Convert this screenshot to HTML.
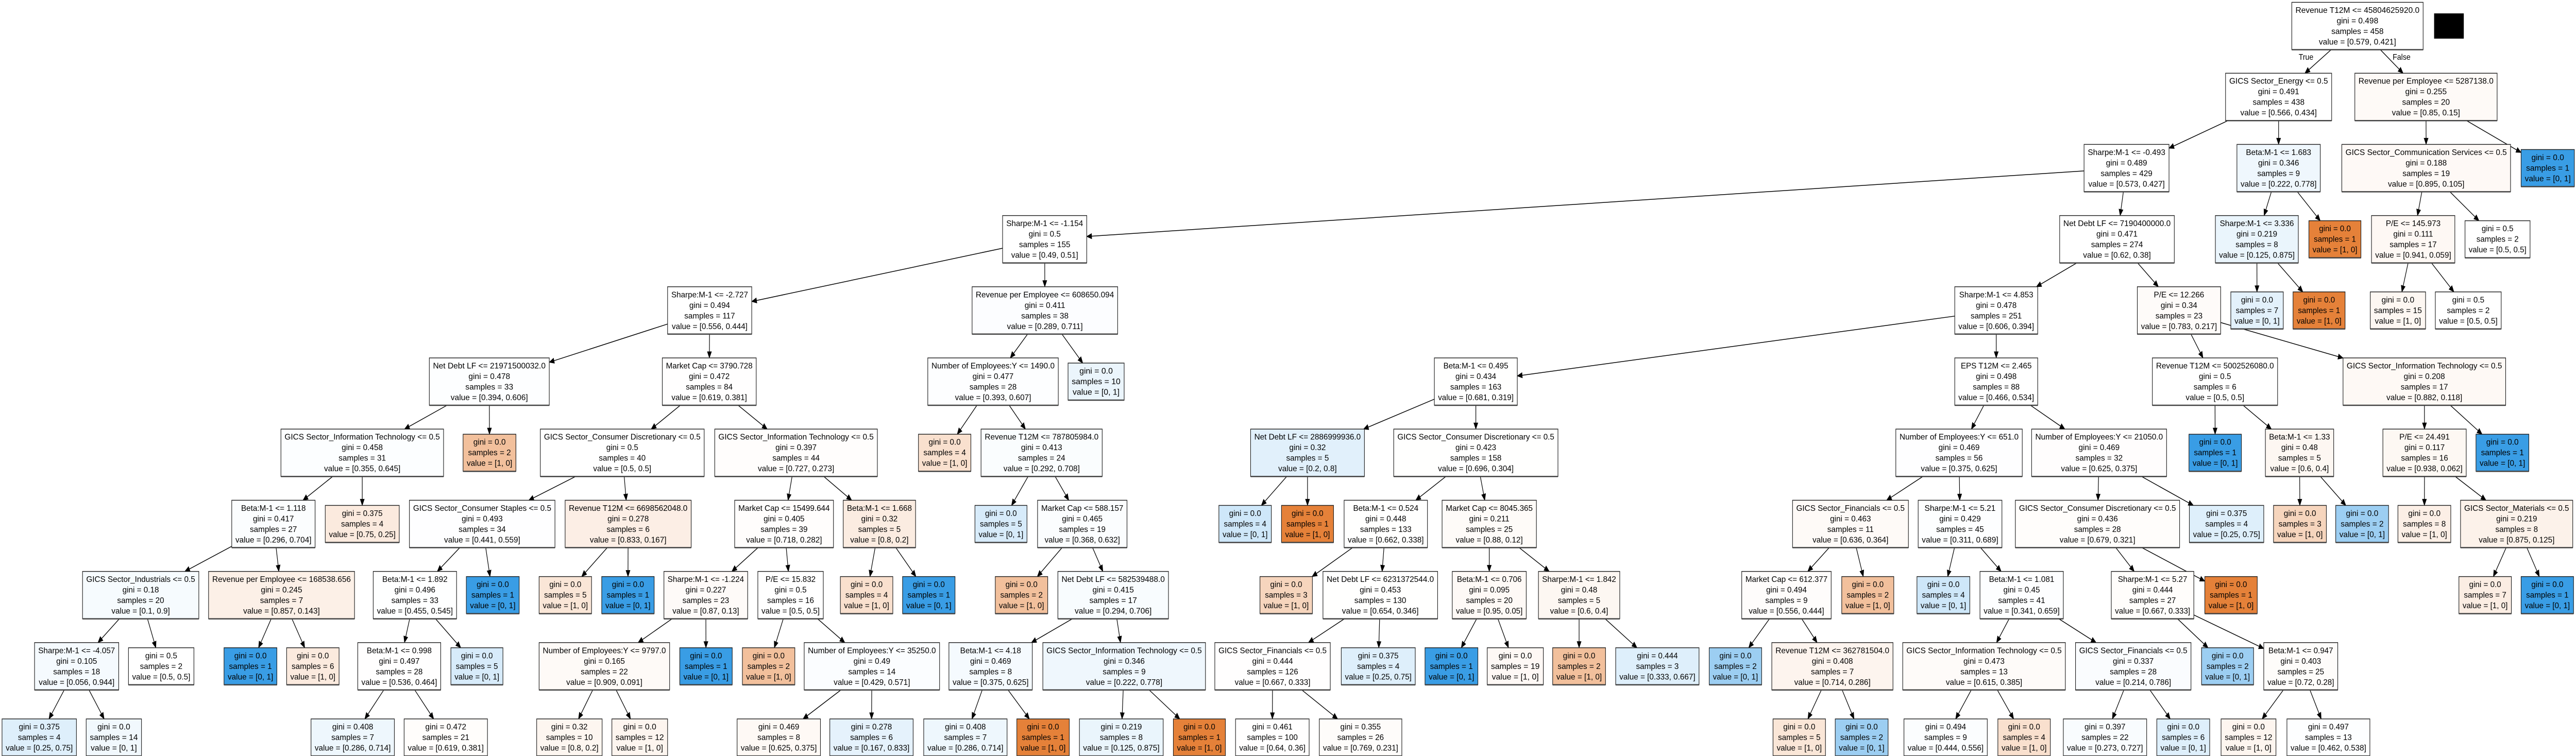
<!DOCTYPE html>
<html><head><meta charset="utf-8">
<style>
html,body{margin:0;padding:0;background:#fff;overflow:hidden;width:100%;height:100%;}
svg{display:block;position:fixed;left:0;top:0;width:100vw;height:100vh;}
text{font-family:"Liberation Sans",Arial,sans-serif;font-size:16px;fill:#000;}
</style></head>
<body>
<svg id="s" xmlns="http://www.w3.org/2000/svg" viewBox="0 0 6336 1468" preserveAspectRatio="none">
<rect x="0" y="0" width="6336" height="1468" fill="#fff"/>
<g id="edges"></g>
<g id="nodes"></g>
<rect x="5987" y="26" width="73" height="49" fill="#000"/>
<text x="5672" y="116" text-anchor="middle" textLength="36" lengthAdjust="spacingAndGlyphs">True</text>
<text x="5907" y="116" text-anchor="middle" textLength="44" lengthAdjust="spacingAndGlyphs">False</text>
</svg>
<script>
var NS='http://www.w3.org/2000/svg';
var EG=document.getElementById('edges'),NG=document.getElementById('nodes');
var nodes={};
function cyOf(L){return L==0?50.5:50+138.2*L;}
function N(id,x1,x2,L,txt,p0,s){
  var lines=txt.split('|');var h=lines.length==4?92:72;var cy=cyOf(L);
  nodes[id]={x1:x1,x2:x2,top:cy-h/2,bot:cy+h/2,cx:(x1+x2)/2,cy:cy,lines:lines,p0:p0,s:s};
}
function Lf(id,x1,x2,L,g,s,v,p0){N(id,x1,x2,L,'gini = '+g+'|samples = '+s+'|value = '+v,p0,s);}
function I(id,x1,x2,L,cond,g,s,v,p0){N(id,x1,x2,L,cond+'|gini = '+g+'|samples = '+s+'|value = '+v,p0,s);}
I('R',5637,5960,0,'Revenue T12M <= 45804625920.0','0.498',458,'[0.579, 0.421]',0.579);
I('EN',5474,5735,1,'GICS Sector_Energy <= 0.5','0.491',438,'[0.566, 0.434]',0.566);
I('RP1',5792,6142,1,'Revenue per Employee <= 5287138.0','0.255',20,'[0.85, 0.15]',0.85);
I('S0493',5126,5335,2,'Sharpe:M-1 <= -0.493','0.489',429,'[0.573, 0.427]',0.573);
I('B1683',5502,5707,2,'Beta:M-1 <= 1.683','0.346',9,'[0.222, 0.778]',0.222);
I('GC',5760,6175,2,'GICS Sector_Communication Services <= 0.5','0.188',19,'[0.895, 0.105]',0.895);
Lf('LB1',6201,6332,2,'0.0',1,'[0, 1]',0);
I('ND719',5066,5348,3,'Net Debt LF <= 7190400000.0','0.471',274,'[0.62, 0.38]',0.62);
I('S1154',2466,2673,3,'Sharpe:M-1 <= -1.154','0.5',155,'[0.49, 0.51]',0.49);
I('S3336',5449,5653,3,'Sharpe:M-1 <= 3.336','0.219',8,'[0.125, 0.875]',0.125);
Lf('OR1',5679,5807,3,'0.0',1,'[1, 0]',1);
I('PE145',5833,6038,3,'P/E <= 145.973','0.111',17,'[0.941, 0.059]',0.941);
Lf('H1',6063,6223,3,'0.5',2,'[0.5, 0.5]',0.5);
I('S2727',1642,1849,4,'Sharpe:M-1 <= -2.727','0.494',117,'[0.556, 0.444]',0.556);
I('RPE608',2391,2749,4,'Revenue per Employee <= 608650.094','0.411',38,'[0.289, 0.711]',0.289);
I('S4853',4808,5012,4,'Sharpe:M-1 <= 4.853','0.478',251,'[0.606, 0.394]',0.606);
I('PE12',5257,5462,4,'P/E <= 12.266','0.34',23,'[0.783, 0.217]',0.783);
Lf('a',5487,5616,4,'0.0',7,'[0, 1]',0);
Lf('b',5640,5768,4,'0.0',1,'[1, 0]',1);
Lf('c',5830,5966,4,'0.0',15,'[1, 0]',1);
Lf('d',5990,6152,4,'0.5',2,'[0.5, 0.5]',0.5);
I('ND219',1056,1351,5,'Net Debt LF <= 21971500032.0','0.478',33,'[0.394, 0.606]',0.394);
I('MC3790',1629,1860,5,'Market Cap <= 3790.728','0.472',84,'[0.619, 0.381]',0.619);
I('NE1490',2282,2603,5,'Number of Employees:Y <= 1490.0','0.477',28,'[0.393, 0.607]',0.393);
Lf('e',2627,2765,5,'0.0',10,'[0, 1]',0);
I('B0495',3528,3732,5,'Beta:M-1 <= 0.495','0.434',163,'[0.681, 0.319]',0.681);
I('EPS',4808,5012,5,'EPS T12M <= 2.465','0.498',88,'[0.466, 0.534]',0.466);
I('RT5002',5294,5602,5,'Revenue T12M <= 5002526080.0','0.5',6,'[0.5, 0.5]',0.5);
I('GIT208',5763,6163,5,'GICS Sector_Information Technology <= 0.5','0.208',17,'[0.882, 0.118]',0.882);
I('GIT458',691,1091,6,'GICS Sector_Information Technology <= 0.5','0.458',31,'[0.355, 0.645]',0.355);
Lf('f',1139,1269,6,'0.0',2,'[1, 0]',1);
I('GCD5',1329,1732,6,'GICS Sector_Consumer Discretionary <= 0.5','0.5',40,'[0.5, 0.5]',0.5);
I('GIT397',1758,2158,6,'GICS Sector_Information Technology <= 0.5','0.397',44,'[0.727, 0.273]',0.727);
Lf('g',2259,2388,6,'0.0',4,'[1, 0]',1);
I('RT787',2413,2711,6,'Revenue T12M <= 787805984.0','0.413',24,'[0.292, 0.708]',0.292);
I('ND2886',3076,3356,6,'Net Debt LF <= 2886999936.0','0.32',5,'[0.2, 0.8]',0.2);
I('GCD423',3428,3832,6,'GICS Sector_Consumer Discretionary <= 0.5','0.423',158,'[0.696, 0.304]',0.696);
I('NE651',4663,4974,6,'Number of Employees:Y <= 651.0','0.469',56,'[0.375, 0.625]',0.375);
I('NE21050',4997,5329,6,'Number of Employees:Y <= 21050.0','0.469',32,'[0.625, 0.375]',0.625);
Lf('h',5384,5513,6,'0.0',1,'[0, 1]',0);
I('B133',5572,5740,6,'Beta:M-1 <= 1.33','0.48',5,'[0.6, 0.4]',0.6);
I('PE24',5861,6066,6,'P/E <= 24.491','0.117',16,'[0.938, 0.062]',0.938);
Lf('i',6090,6220,6,'0.0',1,'[0, 1]',0);
I('B1118',570,775,7,'Beta:M-1 <= 1.118','0.417',27,'[0.296, 0.704]',0.296);
Lf('j',800,982,7,'0.375',4,'[0.75, 0.25]',0.75);
I('GCS',1007,1365,7,'GICS Sector_Consumer Staples <= 0.5','0.493',34,'[0.441, 0.559]',0.441);
I('RT6698',1390,1700,7,'Revenue T12M <= 6698562048.0','0.278',6,'[0.833, 0.167]',0.833);
I('MC15499',1807,2050,7,'Market Cap <= 15499.644','0.405',39,'[0.718, 0.282]',0.718);
I('B1668',2074,2252,7,'Beta:M-1 <= 1.668','0.32',5,'[0.8, 0.2]',0.8);
Lf('k',2398,2526,7,'0.0',5,'[0, 1]',0);
I('MC588',2552,2772,7,'Market Cap <= 588.157','0.465',19,'[0.368, 0.632]',0.368);
Lf('l',2998,3127,7,'0.0',4,'[0, 1]',0);
Lf('m',3152,3280,7,'0.0',1,'[1, 0]',1);
I('B0524',3306,3511,7,'Beta:M-1 <= 0.524','0.448',133,'[0.662, 0.338]',0.662);
I('MC8045',3547,3779,7,'Market Cap <= 8045.365','0.211',25,'[0.88, 0.12]',0.88);
I('GF463',4409,4694,7,'GICS Sector_Financials <= 0.5','0.463',11,'[0.636, 0.364]',0.636);
I('S521',4718,4924,7,'Sharpe:M-1 <= 5.21','0.429',45,'[0.311, 0.689]',0.311);
I('GCD436',4957,5361,7,'GICS Sector_Consumer Discretionary <= 0.5','0.436',28,'[0.679, 0.321]',0.679);
Lf('n',5385,5568,7,'0.375',4,'[0.25, 0.75]',0.25);
Lf('o',5592,5722,7,'0.0',3,'[1, 0]',1);
Lf('p',5745,5875,7,'0.0',2,'[0, 1]',0);
Lf('q',5898,6028,7,'0.0',8,'[1, 0]',1);
I('GM',6052,6328,7,'GICS Sector_Materials <= 0.5','0.219',8,'[0.875, 0.125]',0.875);
I('GI',203,489,8,'GICS Sector_Industrials <= 0.5','0.18',20,'[0.1, 0.9]',0.1);
I('RPE168',513,872,8,'Revenue per Employee <= 168538.656','0.245',7,'[0.857, 0.143]',0.857);
I('B1892',918,1123,8,'Beta:M-1 <= 1.892','0.496',33,'[0.455, 0.545]',0.455);
Lf('r',1147,1277,8,'0.0',1,'[0, 1]',0);
Lf('s_',1326,1455,8,'0.0',5,'[1, 0]',1);
Lf('t',1480,1609,8,'0.0',1,'[0, 1]',0);
I('S1224',1633,1839,8,'Sharpe:M-1 <= -1.224','0.227',23,'[0.87, 0.13]',0.87);
I('PE158',1864,2025,8,'P/E <= 15.832','0.5',16,'[0.5, 0.5]',0.5);
Lf('u',2067,2196,8,'0.0',4,'[1, 0]',1);
Lf('v',2220,2349,8,'0.0',1,'[0, 1]',0);
Lf('w',2448,2577,8,'0.0',2,'[1, 0]',1);
I('ND582',2602,2874,8,'Net Debt LF <= 582539488.0','0.415',17,'[0.294, 0.706]',0.294);
Lf('x',3099,3228,8,'0.0',3,'[1, 0]',1);
I('ND6231',3254,3536,8,'Net Debt LF <= 6231372544.0','0.453',130,'[0.654, 0.346]',0.654);
I('B0706',3572,3754,8,'Beta:M-1 <= 0.706','0.095',20,'[0.95, 0.05]',0.95);
I('S1842',3784,3984,8,'Sharpe:M-1 <= 1.842','0.48',5,'[0.6, 0.4]',0.6);
I('MC612',4284,4504,8,'Market Cap <= 612.377','0.494',9,'[0.556, 0.444]',0.556);
Lf('y',4530,4658,8,'0.0',2,'[1, 0]',1);
Lf('z',4715,4845,8,'0.0',4,'[0, 1]',0);
I('B1081',4870,5075,8,'Beta:M-1 <= 1.081','0.45',41,'[0.341, 0.659]',0.341);
I('S527',5193,5396,8,'Sharpe:M-1 <= 5.27','0.444',27,'[0.667, 0.333]',0.667);
Lf('aa',5423,5552,8,'0.0',1,'[1, 0]',1);
Lf('ab',6048,6177,8,'0.0',7,'[1, 0]',1);
Lf('ac',6201,6330,8,'0.0',1,'[0, 1]',0);
I('S4057',85,292,9,'Sharpe:M-1 <= -4.057','0.105',18,'[0.056, 0.944]',0.056);
Lf('ad',316,477,9,'0.5',2,'[0.5, 0.5]',0.5);
Lf('ae',551,681,9,'0.0',1,'[0, 1]',0);
Lf('af',705,834,9,'0.0',6,'[1, 0]',1);
I('B0998',880,1084,9,'Beta:M-1 <= 0.998','0.497',28,'[0.536, 0.464]',0.536);
Lf('ag',1109,1237,9,'0.0',5,'[0, 1]',0);
I('NE9797',1326,1647,9,'Number of Employees:Y <= 9797.0','0.165',22,'[0.909, 0.091]',0.909);
Lf('ah',1672,1801,9,'0.0',1,'[0, 1]',0);
Lf('ai',1826,1955,9,'0.0',2,'[1, 0]',1);
I('NE35250',1978,2311,9,'Number of Employees:Y <= 35250.0','0.49',14,'[0.429, 0.571]',0.429);
I('B418',2334,2539,9,'Beta:M-1 <= 4.18','0.469',8,'[0.375, 0.625]',0.375);
I('GIT346',2565,2965,9,'GICS Sector_Information Technology <= 0.5','0.346',9,'[0.222, 0.778]',0.222);
I('GF444',2988,3272,9,'GICS Sector_Financials <= 0.5','0.444',126,'[0.667, 0.333]',0.667);
Lf('aj',3299,3481,9,'0.375',4,'[0.25, 0.75]',0.25);
Lf('ak',3505,3635,9,'0.0',1,'[0, 1]',0);
Lf('al',3658,3796,9,'0.0',19,'[1, 0]',1);
Lf('am',3819,3949,9,'0.0',2,'[1, 0]',1);
Lf('an',3974,4179,9,'0.444',3,'[0.333, 0.667]',0.333);
Lf('ao',4204,4333,9,'0.0',2,'[0, 1]',0);
I('RT362',4358,4656,9,'Revenue T12M <= 362781504.0','0.408',7,'[0.714, 0.286]',0.714);
I('GIT473',4680,5080,9,'GICS Sector_Information Technology <= 0.5','0.473',13,'[0.615, 0.385]',0.615);
I('GF337',5105,5389,9,'GICS Sector_Financials <= 0.5','0.337',28,'[0.214, 0.786]',0.214);
Lf('ap',5415,5543,9,'0.0',2,'[0, 1]',0);
I('B0947',5568,5750,9,'Beta:M-1 <= 0.947','0.403',25,'[0.72, 0.28]',0.72);
Lf('aq',5,188,10,'0.375',4,'[0.25, 0.75]',0.25);
Lf('ar',212,348,10,'0.0',14,'[0, 1]',0);
Lf('as',765,970,10,'0.408',7,'[0.286, 0.714]',0.286);
Lf('at',994,1199,10,'0.472',21,'[0.619, 0.381]',0.619);
Lf('au',1320,1481,10,'0.32',10,'[0.8, 0.2]',0.8);
Lf('av',1505,1642,10,'0.0',12,'[1, 0]',1);
Lf('aw',1813,2018,10,'0.469',8,'[0.625, 0.375]',0.625);
Lf('ax',2041,2246,10,'0.278',6,'[0.167, 0.833]',0.167);
Lf('ay',2272,2477,10,'0.408',7,'[0.286, 0.714]',0.286);
Lf('az',2501,2630,10,'0.0',1,'[1, 0]',1);
Lf('ba',2655,2861,10,'0.219',8,'[0.125, 0.875]',0.125);
Lf('bb',2886,3014,10,'0.0',1,'[1, 0]',1);
Lf('bc',3039,3220,10,'0.461',100,'[0.64, 0.36]',0.64);
Lf('bd',3245,3448,10,'0.355',26,'[0.769, 0.231]',0.769);
Lf('be',4361,4490,10,'0.0',5,'[1, 0]',1);
Lf('bf',4514,4644,10,'0.0',2,'[0, 1]',0);
Lf('bg',4683,4888,10,'0.494',9,'[0.444, 0.556]',0.444);
Lf('bh',4914,5043,10,'0.0',4,'[1, 0]',1);
Lf('bi',5075,5280,10,'0.397',22,'[0.273, 0.727]',0.273);
Lf('bj',5305,5435,10,'0.0',6,'[0, 1]',0);
Lf('bk',5463,5598,10,'0.0',12,'[1, 0]',1);
Lf('bl',5625,5829,10,'0.497',13,'[0.462, 0.538]',0.462);

var E=[['R','EN'],['R','RP1'],['EN','S0493'],['EN','B1683'],['RP1','GC'],['RP1','LB1'],
['S0493','S1154'],['S0493','ND719'],['B1683','S3336'],['B1683','OR1'],['GC','PE145'],['GC','H1'],
['ND719','S4853'],['ND719','PE12'],['S3336','a'],['S3336','b'],['PE145','c'],['PE145','d'],
['S4853','B0495'],['S4853','EPS'],['PE12','RT5002'],['PE12','GIT208'],
['EPS','NE651'],['EPS','NE21050'],['RT5002','h'],['RT5002','B133'],['GIT208','PE24'],['GIT208','i'],
['NE651','GF463'],['NE651','S521'],['NE21050','GCD436'],['NE21050','n'],['B133','o'],['B133','p'],
['PE24','q'],['PE24','GM'],['GF463','MC612'],['GF463','y'],['S521','z'],['S521','B1081'],
['GCD436','S527'],['GCD436','aa'],['GM','ab'],['GM','ac'],['MC612','ao'],['MC612','RT362'],
['B1081','GIT473'],['B1081','GF337'],['S527','ap'],['S527','B0947'],['RT362','be'],['RT362','bf'],
['GIT473','bg'],['GIT473','bh'],['GF337','bi'],['GF337','bj'],['B0947','bk'],['B0947','bl'],
['S1154','S2727'],['S1154','RPE608'],['S2727','ND219'],['S2727','MC3790'],['RPE608','NE1490'],['RPE608','e'],
['ND219','GIT458'],['ND219','f'],['MC3790','GCD5'],['MC3790','GIT397'],['NE1490','g'],['NE1490','RT787'],
['B0495','ND2886'],['B0495','GCD423'],['GIT458','B1118'],['GIT458','j'],['GCD5','GCS'],['GCD5','RT6698'],
['GIT397','MC15499'],['GIT397','B1668'],['RT787','k'],['RT787','MC588'],['ND2886','l'],['ND2886','m'],
['GCD423','B0524'],['GCD423','MC8045'],['B1118','GI'],['B1118','RPE168'],['GCS','B1892'],['GCS','r'],
['RT6698','s_'],['RT6698','t'],['MC15499','S1224'],['MC15499','PE158'],['B1668','u'],['B1668','v'],
['MC588','w'],['MC588','ND582'],['B0524','x'],['B0524','ND6231'],['MC8045','B0706'],['MC8045','S1842'],
['GI','S4057'],['GI','ad'],['RPE168','ae'],['RPE168','af'],['B1892','B0998'],['B1892','ag'],
['S1224','NE9797'],['S1224','ah'],['PE158','ai'],['PE158','NE35250'],['ND582','B418'],['ND582','GIT346'],
['ND6231','GF444'],['ND6231','aj'],['B0706','ak'],['B0706','al'],['S1842','am'],['S1842','an'],
['S4057','aq'],['S4057','ar'],['B0998','as'],['B0998','at'],['NE9797','au'],['NE9797','av'],
['NE35250','aw'],['NE35250','ax'],['B418','ay'],['B418','az'],['GIT346','ba'],['GIT346','bb'],
['GF444','bc'],['GF444','bd']];

function clipT(n,dx,dy){
  var hw=(n.x2-n.x1)/2,hh=(n.bot-n.top)/2,t=1e9;
  if(dx!==0)t=Math.min(t,Math.abs(hw/dx));
  if(dy!==0)t=Math.min(t,Math.abs(hh/dy));
  return t;
}
function el(tag,attrs,parent){var e=document.createElementNS(NS,tag);for(var k in attrs)e.setAttribute(k,attrs[k]);parent.appendChild(e);return e;}
E.forEach(function(p){
  var a=nodes[p[0]],b=nodes[p[1]];if(!a||!b)return;
  var dx=b.cx-a.cx,dy=b.cy-a.cy;
  var t1=clipT(a,dx,dy),t2=clipT(b,-dx,-dy);
  var sx=a.cx+dx*t1,sy=a.cy+dy*t1,ex=b.cx-dx*t2,ey=b.cy-dy*t2;
  var len=Math.sqrt((ex-sx)*(ex-sx)+(ey-sy)*(ey-sy));var ux=(ex-sx)/len,uy=(ey-sy)/len;
  var AL=12,AW=5;var bx=ex-ux*AL,by=ey-uy*AL;
  el('line',{x1:sx,y1:sy,x2:bx,y2:by,stroke:'#000','stroke-width':1.5},EG);
  el('polygon',{points:ex+','+ey+' '+(bx-uy*AW)+','+(by+ux*AW)+' '+(bx+uy*AW)+','+(by-ux*AW),fill:'#000',stroke:'#000','stroke-width':1},EG);
});
for(var id in nodes){
  var n=nodes[id];var p0=n.p0,pmax=Math.max(p0,1-p0),pmin=1-pmax;
  var a=(pmax-pmin)/(1-pmin)/n.s; if(a>1)a=1; if(Math.abs(p0-0.5)<1e-9)a=0;
  var base=p0>0.5?[229,129,57]:[57,157,229];
  var c=base.map(function(v){return Math.round(255-a*(255-v));});
  var w=n.x2-n.x1,h=n.bot-n.top;
  el('rect',{x:n.x1,y:n.top,width:w,height:h,fill:'rgb('+c.join(',')+')',stroke:'#1a1a1a','stroke-width':1.4},NG);
  el('line',{x1:n.x1,y1:n.bot,x2:n.x2,y2:n.bot,stroke:'#444','stroke-width':2.5},NG);
  var g=el('g',{},NG);var ts=[],mx=0;
  n.lines.forEach(function(s,i){var t=el('text',{x:0,y:0,'text-anchor':'middle'},g);t.textContent=s;ts.push(t);});
  ts.forEach(function(t){var L=t.getComputedTextLength();if(L>mx)mx=L;});
  var sc=mx>0?(w-18)/mx:1.1; if(sc>1.5)sc=1.5; if(sc<0.8)sc=0.8;
  ts.forEach(function(t,i){t.setAttribute('transform','translate('+n.cx+','+(n.top+20.5+20.5*i)+') scale('+sc+',1)');});
}
</script>
</body></html>
